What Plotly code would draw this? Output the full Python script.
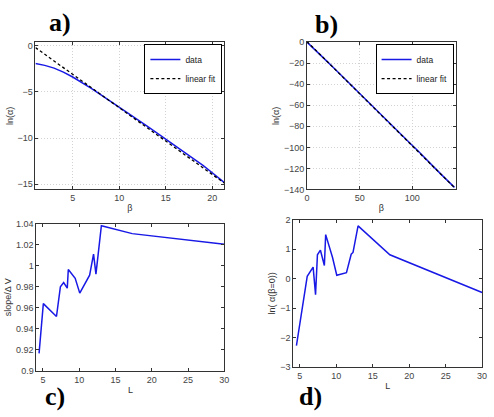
import plotly.graph_objects as go

# ---- data ----
beta_a = [1, 2, 3, 4, 5, 6, 7, 8, 9, 10, 11, 12, 13, 14, 15, 16, 17, 18, 19, 20, 21.27]
lna_a = [-1.93, -2.12, -2.42, -2.85, -3.38, -3.95, -4.6, -5.28, -5.95, -6.62, -7.3,
         -8.0, -8.7, -9.4, -10.1, -10.8, -11.5, -12.22, -12.95, -13.75, -14.8]
fit_a_beta = [1, 21.27]
fit_a_val = [-0.2, -14.85]

beta_b = [0, 5, 10, 15, 20, 25, 30, 40, 50, 60, 65, 70, 80, 90, 100, 105, 110, 115, 120, 130, 140]
lna_b = [0, -4.6, -9.5, -14.4, -19.3, -24.2, -29.2, -39.2, -49.0, -58.8, -63.3, -68.8, -78.6,
         -88.3, -98.3, -103.0, -107.8, -112.8, -118.3, -128.3, -138.0]
fit_b_beta = [0, 140]
fit_b_val = [0.5, -138.3]

L_c = [4.46, 5.05, 6.86, 7.4, 7.85, 8.35, 8.49, 9.44, 10.07, 11.43, 11.97, 12.3, 13.05, 17.3, 30]
slope_c = [0.9167, 0.964, 0.9518, 0.980, 0.984, 0.9787, 0.9964, 0.988, 0.974, 0.991, 1.011,
           0.992, 1.038, 1.0305, 1.0205]

L_d = [4.54, 6.02, 6.83, 7.16, 7.42, 7.83, 8.37, 8.55, 9.49, 10.07, 11.4, 12.05, 12.3, 12.99, 17.35, 30]
lna0_d = [-2.27, 0.08, 0.39, -0.54, 0.81, 0.966, 0.447, 1.495, 0.72, 0.117, 0.206, 0.83, 0.89,
          1.79, 0.81, -0.47]

BLUE = "rgb(25,25,230)"
W, H = 494, 417

def dom_x(x0, x1):
    return [x0 / W, x1 / W]

def dom_y(y0, y1):
    return [1 - y1 / H, 1 - y0 / H]

fig = go.Figure()

fit_line = dict(color="black", width=1.3, dash="3px,2.5px")
fig.add_trace(go.Scatter(x=beta_a, y=lna_a, mode="lines", name="data",
                         line=dict(color=BLUE, width=1.5), xaxis="x", yaxis="y", legend="legend"))
fig.add_trace(go.Scatter(x=fit_a_beta, y=fit_a_val, mode="lines", name="linear fit",
                         line=fit_line, xaxis="x", yaxis="y", legend="legend"))
fig.add_trace(go.Scatter(x=beta_b, y=lna_b, mode="lines", name="data",
                         line=dict(color=BLUE, width=1.5), xaxis="x2", yaxis="y2", legend="legend2"))
fig.add_trace(go.Scatter(x=fit_b_beta, y=fit_b_val, mode="lines", name="linear fit",
                         line=fit_line, xaxis="x2", yaxis="y2", legend="legend2"))
fig.add_trace(go.Scatter(x=L_c, y=slope_c, mode="lines", showlegend=False,
                         line=dict(color=BLUE, width=1.5), xaxis="x3", yaxis="y3"))
fig.add_trace(go.Scatter(x=L_d, y=lna0_d, mode="lines", showlegend=False,
                         line=dict(color=BLUE, width=1.5), xaxis="x4", yaxis="y4"))

tickfont = dict(family="Liberation Sans, Arial", size=9, color="#444")
titlefont = dict(family="Liberation Sans, Arial", size=9, color="#333")

def ax(domain, rng, dtick, title, anchor, grid, tick0=0, standoff=2):
    return dict(domain=domain, range=rng, dtick=dtick, tick0=tick0, anchor=anchor,
                showline=True, linecolor="#333", linewidth=1, mirror="ticks",
                ticks="inside", ticklen=3, tickcolor="#333",
                showgrid=grid, gridcolor="#d2d2d2", griddash="1px,2px", gridwidth=1,
                zeroline=False, tickfont=tickfont,
                title=dict(text=title, font=titlefont, standoff=standoff))

legfont = dict(family="Liberation Sans, Arial", size=8.5, color="#222")
fig.update_layout(
    width=W, height=H, margin=dict(l=0, r=0, t=0, b=0),
    paper_bgcolor="white", plot_bgcolor="white",
    xaxis=ax(dom_x(33, 225), [1, 21.3], 5, "β", "y", True, tick0=0),
    yaxis=ax(dom_y(38, 189), [-15.56, 0.4], 5, "ln(α)", "x", True),
    xaxis2=ax(dom_x(309, 460), [0, 141], 50, "β", "y2", True),
    yaxis2=ax(dom_y(38, 189), [-140, 0], 20, "ln(α)", "x2", True),
    xaxis3=ax(dom_x(34, 225), [4.1, 30], 5, "L", "y3", False),
    yaxis3=ax(dom_y(224, 375), [0.9, 1.04], 0.02, "slope/Δ V", "x3", False),
    xaxis4=ax(dom_x(295, 487), [4.1, 30], 5, "L", "y4", False),
    yaxis4=ax(dom_y(220, 371), [-3, 2], 1, "ln( α(β=0))", "x4", False),
    legend=dict(x=223 / W, y=1 - 40 / H, xanchor="right", yanchor="top",
                bgcolor="white", bordercolor="black", borderwidth=1,
                font=legfont, tracegroupgap=0, itemwidth=30),
    legend2=dict(x=458 / W, y=1 - 40 / H, xanchor="right", yanchor="top",
                 bgcolor="white", bordercolor="black", borderwidth=1,
                 font=legfont, tracegroupgap=0, itemwidth=30),
)

labfont = dict(family="Liberation Serif, DejaVu Serif", size=26, color="black")
for txt, x, y in [("<b>a)</b>", 58, 18), ("<b>b)</b>", 329, 20), ("<b>c)</b>", 53, 401), ("<b>d)</b>", 313, 401)]:
    fig.add_annotation(text=txt, x=x / W, y=1 - y / H, xref="paper", yref="paper",
                       showarrow=False, font=labfont, xanchor="center", yanchor="middle")

fig.write_html("out.html")
